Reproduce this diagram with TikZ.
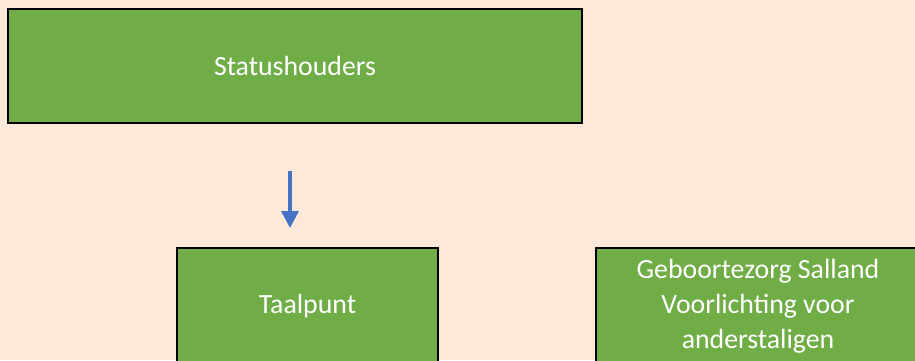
\documentclass[tikz,border=0pt]{standalone}
\usepackage{fontspec}
\setmainfont{Carlito}
\usetikzlibrary{arrows.meta}
\definecolor{peach}{RGB}{253,233,217}
\definecolor{boxgreen}{RGB}{112,173,71}
\definecolor{arrowblue}{RGB}{68,114,196}
\tikzset{
  groen/.style={draw=black, line width=2pt, fill=boxgreen, text=white, align=center,
    inner sep=0pt, font=\fontsize{27.8}{35}\selectfont},
}
\begin{document}
\begin{tikzpicture}[x=1pt,y=-1pt]
	\useasboundingbox (0,0) rectangle (915,360);
	\clip (0,0) rectangle (915,360);
	\fill [peach] (0,0) rectangle (915,360);
	\node [groen, minimum width=574pt, minimum height=114pt] (status) at (295,66) {Statushouders};
	\node [groen, minimum width=261pt, minimum height=116pt] (taal) at (307.5,306) {Taalpunt};
	\node [groen, minimum width=324pt, minimum height=116pt] (geboorte) at (758,306) {Geboortezorg Salland\\Voorlichting voor\\anderstaligen};
	\coordinate (pijlA) at (290,171);
	\coordinate (pijlB) at (290,228);
	\draw [arrowblue, line width=3.5pt, -{Triangle[length=17pt,width=17pt]}] (pijlA) -- (pijlB);
\end{tikzpicture}
\end{document}
